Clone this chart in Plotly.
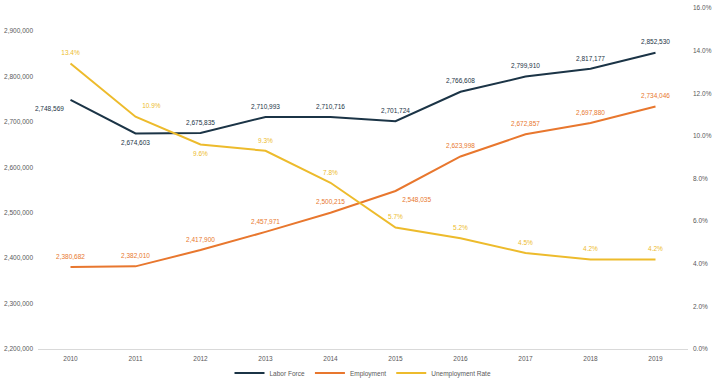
import plotly.graph_objects as go

years = ["2010", "2011", "2012", "2013", "2014", "2015", "2016", "2017", "2018", "2019"]
labor_force = [2748569, 2674603, 2675835, 2710993, 2710716, 2701724, 2766608, 2799910, 2817177, 2852530]
employment = [2380682, 2382010, 2417900, 2457971, 2500215, 2548035, 2623998, 2672857, 2697880, 2734046]
unemployment_rate = [13.4, 10.9, 9.6, 9.3, 7.8, 5.7, 5.2, 4.5, 4.2, 4.2]

lf_pos = ["bottom left", "bottom center", "top center", "top center", "top center",
          "top center", "top center", "top center", "top center", "top center"]
emp_pos = ["top center"] * 5 + ["bottom right"] + ["top center"] * 4
ur_pos = ["top center", "top right", "bottom center", "top center", "top center",
          "top center", "top center", "top center", "top center", "top center"]

NAVY = "#1B3446"
ORANGE = "#E8772E"
GOLD = "#EDBB2C"
FONT = "Liberation Sans"
TICK = "#595959"
CLEAR = "rgba(0,0,0,0)"

fig = go.Figure()
fig.add_trace(go.Scatter(
    x=years, y=labor_force, name="Labor Force", mode="lines+markers+text",
    line=dict(color=NAVY, width=2), marker=dict(size=9, color=CLEAR), cliponaxis=False,
    text=[f"{v:,}" for v in labor_force], textposition=lf_pos,
    textfont=dict(family=FONT, size=6.5, color=NAVY),
))
fig.add_trace(go.Scatter(
    x=years, y=employment, name="Employment", mode="lines+markers+text",
    line=dict(color=ORANGE, width=2), marker=dict(size=9, color=CLEAR), cliponaxis=False,
    text=[f"{v:,}" for v in employment], textposition=emp_pos,
    textfont=dict(family=FONT, size=6.5, color=ORANGE),
))
fig.add_trace(go.Scatter(
    x=years, y=unemployment_rate, name="Unemployment Rate", mode="lines+markers+text",
    line=dict(color=GOLD, width=2), marker=dict(size=9, color=CLEAR), yaxis="y2",
    cliponaxis=False,
    text=[f"{v:.1f}%" for v in unemployment_rate], textposition=ur_pos,
    textfont=dict(family=FONT, size=6.5, color=GOLD),
))

fig.update_layout(
    width=718, height=385,
    margin=dict(l=38, r=30, t=8, b=36, autoexpand=False),
    paper_bgcolor="white", plot_bgcolor="white",
    font=dict(family=FONT, size=6.5, color=TICK),
    showlegend=True,
    legend=dict(orientation="h", x=0.5, xanchor="center", yref="container", y=12 / 385,
                yanchor="middle", bgcolor=CLEAR,
                font=dict(family=FONT, size=6.5, color=TICK),
                itemwidth=30, tracegroupgap=0),
    xaxis=dict(type="category", range=[-0.5, 9.5], showgrid=False, zeroline=False,
               showline=True, linecolor="#D9D9D9", linewidth=1, ticks="", automargin=False,
               ticklabelstandoff=3, tickfont=dict(size=6.5, color=TICK)),
    yaxis=dict(range=[2200000, 2951000], tickvals=[2200000 + 100000 * i for i in range(8)],
               tickformat=",d", showgrid=False, zeroline=False, showline=False, ticks="",
               automargin=False, ticklabelstandoff=4, tickfont=dict(size=6.5, color=TICK)),
    yaxis2=dict(overlaying="y", side="right", range=[0, 16], dtick=2, tickformat=".1f",
                ticksuffix="%", showgrid=False, zeroline=False, showline=False, ticks="",
                automargin=False, ticklabelstandoff=4, tickfont=dict(size=6.5, color=TICK)),
)

fig.write_html("out.html", config={"displayModeBar": False},
               post_script="document.body.style.margin='0';")
